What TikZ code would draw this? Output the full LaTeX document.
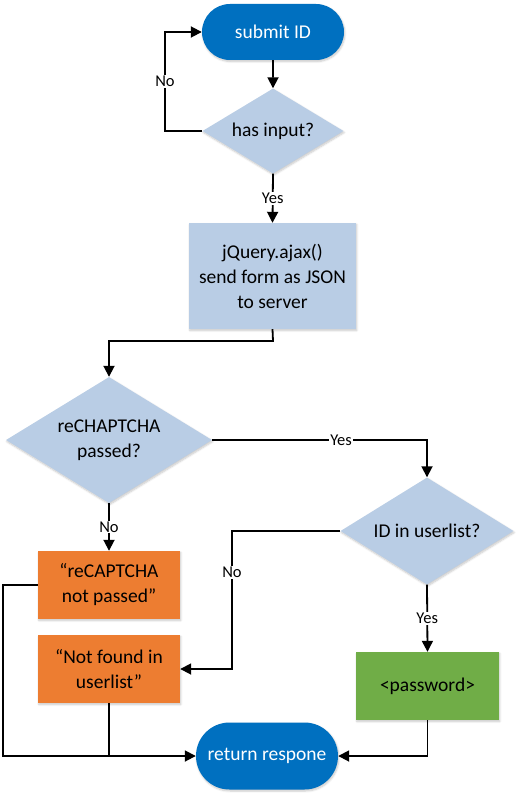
\documentclass[tikz,border=0pt]{standalone}
\usepackage{fontspec}
\setmainfont{Carlito}
\usetikzlibrary{shapes.geometric,shapes.misc,arrows.meta,shadows.blur}
\definecolor{termblue}{HTML}{0070C0}
\definecolor{lightblue}{HTML}{B9CDE5}
\definecolor{boxorange}{HTML}{ED7D31}
\definecolor{boxgreen}{HTML}{70AD47}
\tikzset{
  shd/.style={blur shadow={shadow blur steps=6,shadow xshift=0.8pt,shadow yshift=-1.5pt,shadow opacity=22}},
  txt/.style={font=\fontsize{19.5}{25}\selectfont,align=center,text=black},
  term/.style={txt,shd,rounded rectangle,fill=termblue,text=white,minimum width=142pt,inner sep=0pt,draw=none},
  dec/.style={txt,shd,diamond,fill=lightblue,inner sep=0pt,draw=none},
  proc/.style={txt,shd,rectangle,inner sep=0pt,draw=none},
  arr/.style={line width=1.8pt,-{Triangle[length=11pt,width=11pt]}},
  ln/.style={line width=1.8pt},
  lbl/.style={font=\fontsize{16.5}{18}\selectfont,fill=white,inner sep=1pt}
}
\begin{document}
\begin{tikzpicture}[x=1pt,y=-1pt]
\useasboundingbox (0,0) rectangle (522,800);
% nodes
\node[term,minimum height=56pt] (submit) at (273,32) {submit ID};
\node[dec,minimum width=141pt,minimum height=85pt,aspect=1.66] (hasinput) at (273,131) {has input?};
\node[proc,fill=lightblue,minimum width=167pt,minimum height=106pt] (jq) at (272.5,276) {jQuery.ajax()\\send form as JSON\\to server};
\node[dec,minimum width=206pt,minimum height=126pt,aspect=1.63] (recap) at (109,440) {reCHAPTCHA\\passed?};
\node[dec,minimum width=173pt,minimum height=107pt,aspect=1.62] (iduser) at (427,531) {ID in userlist?};
\node[proc,fill=boxorange,minimum width=142pt,minimum height=68pt] (nr) at (109,585) {“reCAPTCHA\\not passed”};
\node[proc,fill=boxorange,minimum width=142pt,minimum height=68pt] (nf) at (109,669) {“Not found in\\userlist”};
\node[proc,fill=boxgreen,minimum width=143pt,minimum height=68pt] (pw) at (427.5,686) {<password>};
\node[term,minimum height=67pt] (ret) at (267,756) {return respone};
% helper coordinates
\coordinate (c1) at (165,131);
\coordinate (c2) at (273,341);
\coordinate (c3) at (232,531);
\coordinate (c4) at (3,585);
\coordinate (c5) at (109,756);
% connectors
\draw[arr] (submit) -- (hasinput);
\draw[arr] (hasinput.west) -- (c1) |- node[lbl,pos=0.25] {No} (submit.west);
\draw[arr] (hasinput.south) -- node[lbl] {Yes} (jq.north);
\draw[arr] (jq.south) -- (c2) -| (recap.north);
\draw[arr] (recap.east) -| node[lbl,pos=0.3] {Yes} (iduser.north);
\draw[arr] (recap.south) -- node[lbl] {No} (nr.north);
\draw[arr] (iduser.west) -- (c3) |- node[lbl,pos=0.15] {No} (nf.east);
\draw[arr] (iduser.south) -- node[lbl] {Yes} (pw.north);
\draw[arr] (pw.south) |- (ret.east);
\draw[arr] (nr.west) -- (c4) |- (ret.west);
\draw[ln] (nf.south) -- (c5);
\end{tikzpicture}
\end{document}
